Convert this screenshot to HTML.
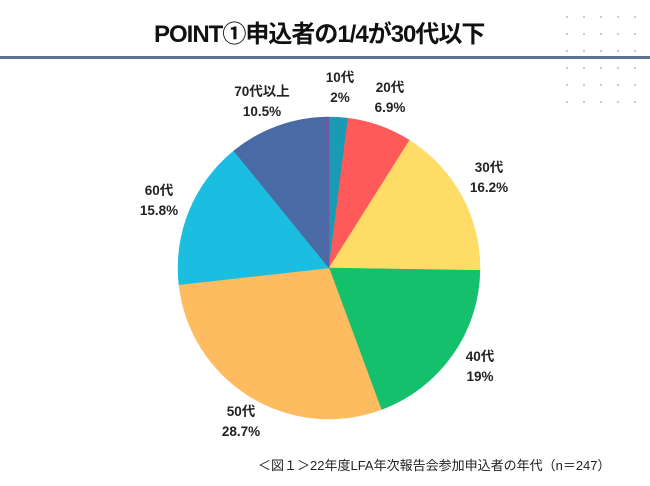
<!DOCTYPE html>
<html><head><meta charset="utf-8"><style>
body{margin:0;width:650px;height:486px;background:#fff;overflow:hidden;font-family:"Liberation Sans","Noto Sans CJK JP",sans-serif;}
.t{position:absolute;font-weight:bold;color:#111;}
.lbl{position:absolute;font-weight:bold;font-size:13.5px;line-height:20px;text-align:center;color:#222;transform:translateX(-50%);}
</style></head><body>
<div class="t" style="left:154px;top:14px;font-size:24px;letter-spacing:-1px;">POINT①申込者の1/4が30代以下</div>
<div style="position:absolute;left:0;top:56px;width:650px;height:3px;background:#5b7293;"></div>
<svg id="dots" width="650" height="486" style="position:absolute;left:0;top:0"></svg>
<svg id="pie" width="650" height="486" style="position:absolute;left:0;top:0"></svg>
<div id="labels"></div>
<div style="position:absolute;left:258px;top:455px;font-size:13px;color:#222;">＜図１＞22年度LFA年次報告会参加申込者の年代（n＝247）</div>
<script>
const categories=["10代","20代","30代","40代","50代","60代","70代以上",""];
const values=[2,6.9,16.2,19,28.7,15.8,10.5,0.3];
const valueLabels=["2%","6.9%","16.2%","19%","28.7%","15.8%","10.5%",""];
const colors=["#1a9bb3","#fe5a5a","#ffdc66","#14c06b","#ffbb5f","#1bbde0","#4a6aa6","#6a5aa6"];
const labelPos=[[340,68],[390,78],[489,158],[480,347],[241,402],[159,181],[262,82]];
const ns="http://www.w3.org/2000/svg";
const cx=329,cy=268,r=151;
const total=values.reduce((a,b)=>a+b,0);
const pie=document.getElementById('pie');
let a=0;
values.forEach((v,i)=>{
  const a0=a/total*2*Math.PI,a1=(a+v)/total*2*Math.PI;a+=v;
  const x0=cx+r*Math.sin(a0),y0=cy-r*Math.cos(a0),x1=cx+r*Math.sin(a1),y1=cy-r*Math.cos(a1);
  const p=document.createElementNS(ns,'path');
  p.setAttribute('d',`M${cx},${cy}L${x0},${y0}A${r},${r} 0 ${a1-a0>Math.PI?1:0} 1 ${x1},${y1}Z`);
  p.setAttribute('fill',colors[i]);p.setAttribute('stroke',colors[i]);p.setAttribute('stroke-width','0.5');
  
  
  pie.appendChild(p);
});
const L=document.getElementById('labels');
categories.forEach((c,i)=>{
  if(!c)return;
  const d=document.createElement('div');d.className='lbl';
  d.style.left=labelPos[i][0]+'px';d.style.top=labelPos[i][1]+'px';
  d.innerHTML=c+'<br>'+valueLabels[i];
  
  
  L.appendChild(d);
});
const dots=document.getElementById('dots');
for(let row=0;row<6;row++)for(let col=0;col<6;col++){
  const e=document.createElementNS(ns,'circle');
  e.setAttribute('cx',567+col*17);e.setAttribute('cy',17+row*17);e.setAttribute('r',1.2);e.setAttribute('fill','#c8ccd4');
  
  
  dots.appendChild(e);
}
</script>
</body></html>
